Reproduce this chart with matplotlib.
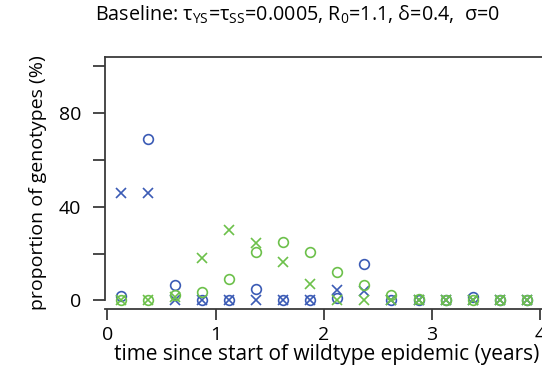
import matplotlib
matplotlib.use('Agg')
import matplotlib.pyplot as plt

plt.rcParams['font.family'] = ['Open Sans', 'DejaVu Sans']
plt.rcParams['mathtext.fontset'] = 'custom'
plt.rcParams['mathtext.rm'] = 'Open Sans'
plt.rcParams['mathtext.it'] = 'Open Sans:italic'
plt.rcParams['mathtext.bf'] = 'Open Sans:bold'

# data
time_years = [0.125, 0.375, 0.625, 0.875, 1.125, 1.375, 1.625, 1.875,
              2.125, 2.375, 2.625, 2.875, 3.125, 3.375, 3.625, 3.875]
blue_o = [2, 69, 6.5, 0, 0, 5, 0, 0, 1, 15.5, 0, 0, 0, 1.5, 0, 0]
blue_x = [46, 46, 0, 0, 0, 0, 0, 0, 4.5, 4, 0, 0, 0, 0, 0, 0]
green_o = [0, 0, 2.5, 3.5, 9, 20.5, 25, 20.5, 12, 6.5, 2.5, 0.5, 0, 0, 0, 0]
green_x = [0, 0, 1.5, 18, 30, 24.5, 16.5, 7, 0, 0, 0, 0, 0, 0, 0, 0]
xticks = [0, 1, 2, 3, 4]
yticks_major = [0, 40, 80]
yticks_minor = [20, 60, 100]

BLUE = '#3b5bb5'
GREEN = '#6cc04a'
AX = '#3a3a3a'

W, H = 542, 372
fig = plt.figure(figsize=(W / 100, H / 100), dpi=100)
left_px, right_px, top_px, bot_px = 105, 549, 57, 309
ax = fig.add_axes([left_px / W, 1 - bot_px / H, (right_px - left_px) / W, (bot_px - top_px) / H])

ms = 7
mew = 1.2
ax.plot(time_years, blue_o, linestyle='none', marker='o', ms=ms, mfc='none', mec=BLUE, mew=mew, clip_on=False)
ax.plot(time_years, blue_x, linestyle='none', marker='x', ms=ms, mec=BLUE, mew=mew, clip_on=False)
ax.plot(time_years, green_o, linestyle='none', marker='o', ms=ms, mfc='none', mec=GREEN, mew=mew, clip_on=False)
ax.plot(time_years, green_x, linestyle='none', marker='x', ms=ms, mec=GREEN, mew=mew, clip_on=False)

ax.set_xlim(-0.021, 4.08)
ax.set_ylim(-3.66, 104)

ax.set_xticks(xticks)
ax.set_yticks(yticks_major)
ax.set_yticks(yticks_minor, minor=True)
ax.tick_params(axis='both', which='both', direction='out', color=AX, width=1.3, labelsize=14)
ax.tick_params(axis='x', length=8, pad=4)
ax.tick_params(axis='y', which='both', length=9, pad=8)

for s in ['left', 'bottom', 'top']:
    ax.spines[s].set_color(AX)
    ax.spines[s].set_linewidth(1.3)
ax.spines['right'].set_visible(False)
ax.spines['left'].set_bounds(0, 104)

ax.set_xlabel('time since start of wildtype epidemic (years)', fontsize=15, labelpad=0)
ax.set_ylabel('proportion of genotypes (%)', fontsize=14, labelpad=9)

title = (r'Baseline: $\mathrm{τ_{YS}}$=$\mathrm{τ_{SS}}$=0.0005, '
         r'$\mathrm{R_{0}}$=1.1, δ=0.4,  σ=0')
fig.text(297 / W, 1 - 15 / H, title, ha='center', va='center', fontsize=14.2)

fig.savefig('out.png', dpi=100)
